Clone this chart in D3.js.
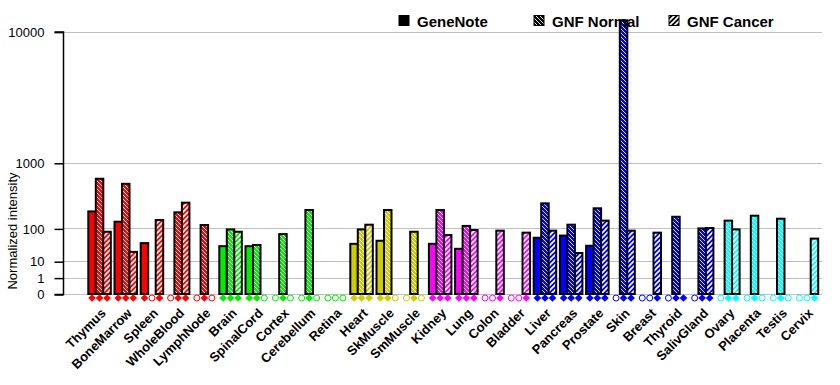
<!DOCTYPE html>
<html>
<head>
<meta charset="utf-8">
<script src="https://cdn.jsdelivr.net/npm/d3@7"></script>
<style>
  body { margin: 0; background: #fff; }
  svg { font-family: Arial, "Liberation Sans", sans-serif; }
</style>
</head>
<body>
<div id="chart"></div>
<script>
// tissues and their colour group
const tissues = ["Thymus", "BoneMarrow", "Spleen", "WholeBlood", "LymphNode",
  "Brain", "SpinalCord", "Cortex", "Cerebellum", "Retina",
  "Heart", "SkMuscle", "SmMuscle",
  "Kidney", "Lung", "Colon", "Bladder",
  "Liver", "Pancreas", "Prostate", "Skin", "Breast", "Thyroid", "SalivGland",
  "Ovary", "Placenta", "Testis", "Cervix"];
const tissueGroup = [0, 0, 0, 0, 0, 1, 1, 1, 1, 1, 2, 2, 2, 3, 3, 3, 3,
  4, 4, 4, 4, 4, 4, 4, 5, 5, 5, 5];
const groupColors = ["#ff0000", "#00ee00", "#cccc00", "#ff00ff", "#0000ff", "#00ffff"];

// null = not measured (hollow marker)
const geneNote = [215, 138, 43, null, null, 35, 35, null, null, null, 41, 50, null,
  41, 29, null, null, 60, 68, 36, null, null, null, null, null, null, null, null];
const gnfNormal = [650, 560, null, 207, 118, 95, 38, 74, 227, null, 95, 227, 84,
  227, 113, null, null, 293, 120, 243, 11500, null, 172, 100, 145, 180, 158, null];
const gnfCancer = [84, 23, 149, 300, null, 84, null, null, null, null, 120, null, null,
  70, 92, 89, 80, 89, 21, 145, 89, 80, 0, 102, 95, null, null, 57];

const seriesNames = ["GeneNote", "GNF Normal", "GNF Cancer"];
const yTicks = [0, 1, 10, 100, 1000, 10000];

const width = 840, height = 385;
const svg = d3.select("#chart").append("svg")
  .attr("width", width)
  .attr("height", height);

const defs = svg.append("defs");

// hatch patterns: "\" for GNF Normal, "/" for GNF Cancer
function addPatterns(id, color) {
  const pn = defs.append("pattern")
    .attr("id", "pn-" + id)
    .attr("patternUnits", "userSpaceOnUse")
    .attr("width", 4).attr("height", 4);
  pn.append("rect").attr("width", 4).attr("height", 4).attr("fill", color);
  pn.append("path")
    .attr("d", "M0,0L4,4M-1,3L1,5M3,-1L5,1")
    .attr("stroke", "#fff").attr("stroke-width", 0.9);

  const pc = defs.append("pattern")
    .attr("id", "pc-" + id)
    .attr("patternUnits", "userSpaceOnUse")
    .attr("width", 5).attr("height", 5);
  pc.append("rect").attr("width", 5).attr("height", 5).attr("fill", color);
  pc.append("path")
    .attr("d", "M0,5L5,0M-1,1L1,-1M4,6L6,4")
    .attr("stroke", "#fff").attr("stroke-width", 1.6);
}
groupColors.forEach((c, i) => addPatterns(i, c));
addPatterns("k", "#000");

// scales
const x = d3.scaleBand()
  .domain(tissues)
  .range([75.2, 75.2 + 26.2 * 28.859])
  .paddingInner(0.141)
  .paddingOuter(0.5);

const xSub = d3.scaleBand()
  .domain(d3.range(3))
  .range([0, x.bandwidth()]);

const y = d3.scalePow()
  .exponent(Math.log10(2))
  .domain([0, 10000])
  .range([294, 31.6]);

const plotLeft = 63, plotRight = 822;

// grid lines
svg.append("g")
  .selectAll("line")
  .data(yTicks)
  .join("line")
  .attr("x1", plotLeft).attr("x2", plotRight)
  .attr("y1", d => Math.round(y(d)) + 0.5)
  .attr("y2", d => Math.round(y(d)) + 0.5)
  .attr("stroke", "#c0c0c0")
  .attr("stroke-width", 1);

// y axis
const yAxis = d3.axisLeft(y)
  .tickValues(yTicks)
  .tickSize(9)
  .tickPadding(10)
  .tickFormat(d3.format("d"));

const yg = svg.append("g")
  .attr("transform", `translate(${plotLeft + 0.5},0.5)`)
  .call(yAxis);
yg.select(".domain").attr("d", `M-9,${y(10000)}H0V${y(0)}H-9`).attr("stroke", "#000").attr("stroke-width", 1.5);
yg.selectAll(".tick line").attr("stroke", "#000").attr("stroke-width", 1.5);
yg.selectAll(".tick text")
  .attr("font-size", "13px")
  .attr("font-family", "Arial, 'Liberation Sans', sans-serif")
  .attr("fill", "#000");

svg.append("text")
  .attr("transform", `translate(17,${231}) rotate(-90)`)
  .attr("text-anchor", "middle")
  .attr("font-size", "13px")
  .attr("fill", "#000")
  .text("Normalized intensity");

// bars
const series = [geneNote, gnfNormal, gnfCancer];
const barData = [];
tissues.forEach((t, i) => {
  series.forEach((s, k) => {
    barData.push({ tissue: t, k: k, value: s[i], group: tissueGroup[i] });
  });
});

function barFill(d) {
  const c = groupColors[d.group];
  if (d.k === 0) return c;
  if (d.k === 1) return `url(#pn-${d.group})`;
  return `url(#pc-${d.group})`;
}

svg.append("g")
  .selectAll("rect")
  .data(barData)
  .join("rect")
  .attr("x", d => x(d.tissue) + xSub(d.k))
  .attr("width", xSub.bandwidth())
  .attr("y", d => y(d.value || 0))
  .attr("height", d => y(0) - y(d.value || 0))
  .attr("fill", barFill)
  .attr("stroke", "#000")
  .attr("stroke-width", 2);

// presence markers: filled diamond when measured, hollow circle otherwise
const markers = svg.append("g");
barData.forEach(d => {
  const cx = x(d.tissue) + xSub(d.k) + xSub.bandwidth() / 2;
  const col = groupColors[d.group];
  if (d.value !== null) {
    markers.append("path")
      .attr("d", d3.symbol(d3.symbolSquare, 30)())
      .attr("transform", `translate(${cx},298) rotate(45)`)
      .attr("fill", col);
  } else {
    markers.append("circle")
      .attr("cx", cx).attr("cy", 298).attr("r", 3)
      .attr("fill", "none")
      .attr("stroke", col)
      .attr("stroke-width", 1);
  }
});

// x labels
svg.append("g")
  .selectAll("text")
  .data(tissues)
  .join("text")
  .attr("transform", d => `translate(${x(d) + x.bandwidth() / 2 + 7},${314}) rotate(-45)`)
  .attr("text-anchor", "end")
  .attr("font-size", "13px")
  .attr("font-weight", "bold")
  .attr("fill", "#000")
  .text(d => d);

// legend
const legendX = [399, 534, 669];
const legend = svg.append("g");
seriesNames.forEach((name, k) => {
  const fill = k === 0 ? "#000" : (k === 1 ? "url(#pn-k)" : "url(#pc-k)");
  legend.append("rect")
    .attr("x", legendX[k]).attr("y", 15.5)
    .attr("width", 10).attr("height", 10)
    .attr("fill", fill)
    .attr("stroke", "#000").attr("stroke-width", 1);
  legend.append("text")
    .attr("x", legendX[k] + 18).attr("y", 26.5)
    .attr("font-size", "15px")
    .attr("font-weight", "bold")
    .attr("fill", "#000")
    .text(name);
});
</script>
</body>
</html>
